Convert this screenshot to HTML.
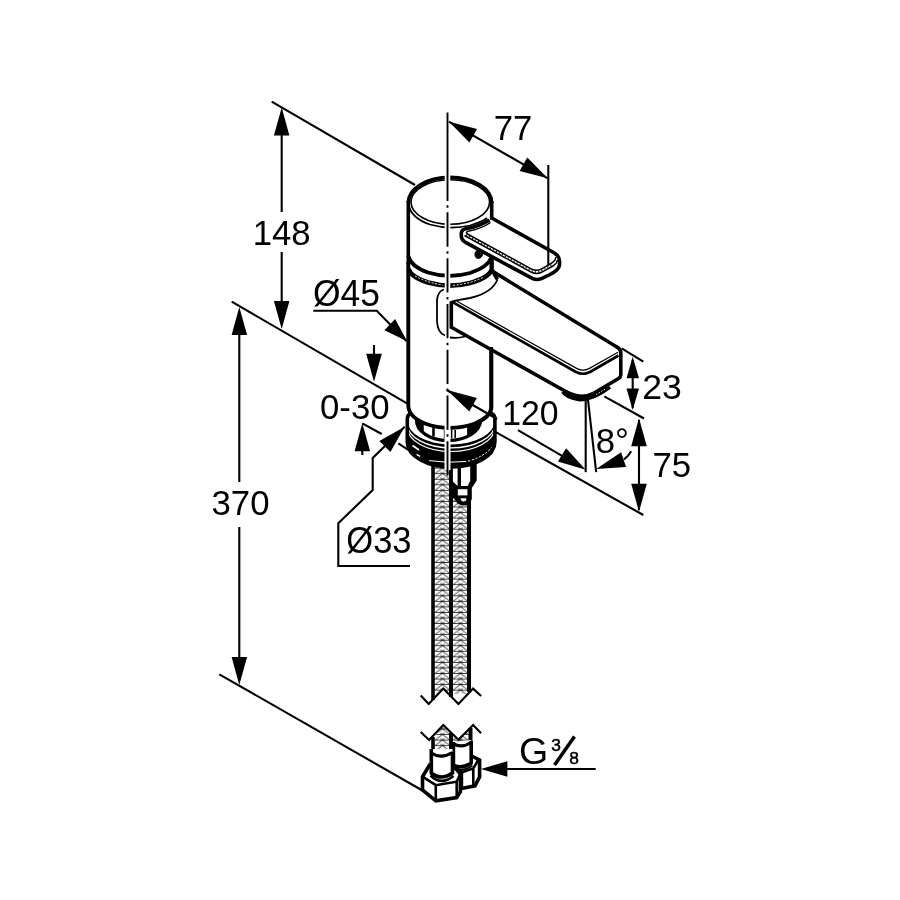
<!DOCTYPE html>
<html><head><meta charset="utf-8"><style>
html,body{margin:0;padding:0;background:#fff;}
svg{display:block;will-change:transform;transform:translateZ(0)}
text{font-family:"Liberation Sans",sans-serif;fill:#000}
</style></head><body>
<svg width="900" height="900" viewBox="0 0 900 900">
<rect width="900" height="900" fill="#fff"/>
<defs>
<pattern id="braid" width="18" height="5.55" patternUnits="userSpaceOnUse" x="433.5" y="1.5">
<rect width="18" height="5.55" fill="#fff"/>
<path d="M0,0.4H18" stroke="#000" stroke-width="0.8" fill="none"/>
<path d="M1.6,5.9 L11.2,-1.3 M16.4,5.9 L6.8,-1.3 M1.6,11.45 L11.2,4.25 M16.4,11.45 L6.8,4.25" stroke="#000" stroke-width="0.8" fill="none"/>
</pattern>
</defs>
<rect x="433" y="462" width="36" height="232" fill="url(#braid)"/>
<polygon points="428,705 429.2,704.2 443.3,689.2 458.3,704.2 472.5,688.3 476,692 476,710 428,710" fill="#fff"/>
<line x1="433" y1="462" x2="433" y2="700" stroke="#000" stroke-width="3.6" />
<line x1="451" y1="462" x2="451" y2="697" stroke="#000" stroke-width="4.0" />
<line x1="469" y1="490" x2="469" y2="692" stroke="#000" stroke-width="4.0" />
<path d="M420.7,695.6 L428.7,704 L443.3,688.6 L458.4,704 L473.1,688.6 L481.1,696" stroke="#000" stroke-width="2.2" fill="none" />
<path d="M451,462 H476.7 V480.5 L471.8,488 V499 Q470.5,505 463.5,505.6 Q457,505 454.5,499 L451,497 Z" stroke="#000" stroke-width="0" fill="#000" />
<path d="M452.9,466 H457.6 V486 L452.9,481.5 Z" stroke="#000" stroke-width="0" fill="#fff" />
<path d="M461,466 H470.2 V481 L467.6,486 H461 Z" stroke="#000" stroke-width="0" fill="#fff" />
<path d="M457.8,489.2 H467.4 V495.4 H457.8 Z" stroke="#000" stroke-width="0" fill="#fff" />
<path d="M460.8,498.3 H466.3 V500 Q463.5,503 460.8,500 Z" stroke="#000" stroke-width="0" fill="#fff" />
<path d="M407.3,416 V442 A43.8,24 0 0 0 494.9,442 V416 Z" stroke="#000" stroke-width="0" fill="#fff" />
<path d="M407.3,420.5 A43.8,24 0 0 0 494.9,420.5 V442 A43.8,25 0 0 1 407.3,442 Z" stroke="#000" stroke-width="0" fill="#000" />
<path d="M407.3,423.9 A43.8,24 0 0 0 494.9,423.9" stroke="#000" stroke-width="1.3" fill="none" style="stroke:#fff"/>
<path d="M407.3,427.5 A43.8,24 0 0 0 494.9,427.5" stroke="#000" stroke-width="1.1" fill="none" style="stroke:#fff"/>
<path d="M429,460.6 Q448,463.5 466,461.5" stroke="#000" stroke-width="1.0" fill="none" style="stroke:#fff"/>
<path d="M468,461.2 Q484,457 493,446" stroke="#000" stroke-width="1.0" fill="none" style="stroke:#fff" stroke-dasharray="2.2 1.6"/>
<path d="M412.5,445.5 L419,450 M416.5,454.5 L420,456.5" stroke="#000" stroke-width="1.6" fill="none" style="stroke:#fff"/>
<path d="M411,413.5 Q407.3,414.5 407.3,419 V442 A43.8,25 0 0 0 494.9,442 V419 Q494.9,415 491.5,413.5" stroke="#000" stroke-width="3.6" fill="none" />
<path d="M416.5,420 A32,20 0 0 0 480.5,421" stroke="#000" stroke-width="3.2" fill="none" />
<path d="M417,421 Q419,428 423.5,431.5 V424 Q420,422 419,419 Z" stroke="#000" stroke-width="0.5" fill="#000" />
<line x1="433.5" y1="427" x2="433.5" y2="436.5" stroke="#000" stroke-width="2.6" />
<line x1="444.8" y1="430" x2="444.8" y2="438.5" stroke="#000" stroke-width="2.0" />
<line x1="451.6" y1="430" x2="451.6" y2="438.5" stroke="#000" stroke-width="1.6" />
<line x1="455.2" y1="430" x2="455.2" y2="438" stroke="#000" stroke-width="1.6" />
<line x1="468.3" y1="427" x2="468.3" y2="436" stroke="#000" stroke-width="2.4" />
<path d="M468.3,426 L481,418 L481,424 Q478,431 468.3,435.5 Z" stroke="#000" stroke-width="0.5" fill="#000" />
<path d="M408.3,270 V406 Q409,417 425,423.5 Q449,432.5 475,423.5 Q490.5,417 491.3,408 V300 Z" stroke="#000" stroke-width="0" fill="#fff" />
<path d="M408.3,262 V406 Q409,417 425,423.5 Q449,432.5 475,423.5 Q490.5,417 491.3,408 V347" stroke="#000" stroke-width="3.9" fill="none" />
<path d="M451.3,301.3 L497,279 L493,271 L617,347.5 Q620.8,349 620.8,353 V376.7 L593.3,393.3 Q585,398 576.7,395.8 Q568,393 563,390 L451.3,327.3 Z" stroke="#000" stroke-width="0" fill="#fff" />
<path d="M563.5,391.3 Q566,396.5 580,399 Q594,398.5 609.5,386.5" stroke="#000" stroke-width="5" fill="none" />
<path d="M596,394.5 L606,388.5" stroke="#000" stroke-width="1" fill="none" style="stroke:#fff" stroke-dasharray="1.5 1.5"/>
<path d="M492,258 V271 L616,346.5 Q620.8,348.5 620.8,353.5 V375 Q620.8,377 618.5,378.5 L594,393 Q585,398 576,395.5 Q570,394 564,390.5 L451.3,327.3 V301.3" stroke="#000" stroke-width="3.6" fill="none" />
<path d="M451.3,301.3 L576,372 Q583,375.5 590,372 L618.5,355.5" stroke="#000" stroke-width="2.7" fill="none" />
<path d="M457,301.2 L577,368.6 Q583,371.6 589,368.6 L618,352.3" stroke="#000" stroke-width="1.2" fill="none" />
<path d="M492.5,270 Q495,276 497.5,279.5" stroke="#000" stroke-width="3.6" fill="none" />
<path d="M497.5,279.5 Q492,293 470,298 Q458,300 452,301.5" stroke="#000" stroke-width="1.8" fill="none" />
<path d="M444,289.5 Q438,291 437,300 V321 Q437.5,333 445,335.5" stroke="#000" stroke-width="1.8" fill="none" />
<path d="M450,337.5 Q458,338.5 465,336.5" stroke="#000" stroke-width="1.8" fill="none" />
<line x1="491.3" y1="347" x2="491.3" y2="409" stroke="#000" stroke-width="3.6" />
<line x1="408.3" y1="201" x2="408.3" y2="264" stroke="#000" stroke-width="3.6" />
<line x1="491.7" y1="201" x2="491.7" y2="220" stroke="#000" stroke-width="3.6" />
<line x1="491.3" y1="256" x2="491.3" y2="272" stroke="#000" stroke-width="3.6" />
<path d="M408.3,203 A41.7,25.6 0 0 1 491.7,203" stroke="#000" stroke-width="3.8000000000000003" fill="none" />
<ellipse cx="450.3" cy="202" rx="39.3" ry="22.3" fill="none" stroke="#000" stroke-width="1.6"/>
<path d="M408.8,205 Q411,218 430,224.5 Q449,230 470,225.5 Q482,222 487,218" stroke="#000" stroke-width="1.7" fill="none" />
<path d="M408.3,256 Q411,266.5 428,272.5 Q449,279 470,273 Q488,267 491,258" stroke="#000" stroke-width="3.8" fill="none" />
<path d="M408.5,269 Q411,277 428,282.5 Q449,288.5 470,283 Q489,277.5 491.5,270" stroke="#000" stroke-width="4.6" fill="none" />
<path d="M415,276 Q428,283 443,285 M453,285.3 Q470,284 484,277" stroke="#000" stroke-width="1" fill="none" style="stroke:#fff" stroke-dasharray="2 1.6"/>
<ellipse cx="478.8" cy="254" rx="4.2" ry="5" fill="#000" transform="rotate(25 478.8 254)"/>
<path d="M467.3,228.7 L490,220 L492.7,218.7 L554,252.7 Q559.5,256 559.5,261 V265 Q558,270 548,275 L542,278.4 Q537,280.5 532.7,278.7 L466,242.7 Q461.3,240 461.3,236 V233 Q461.5,229.5 467.3,228.7 Z" stroke="#000" stroke-width="0" fill="#fff" />
<path d="M491.7,218 L554,252.7 Q559.5,256 559.5,261 V265 Q559,270 550,274.5 L542,278.4 Q537,280.5 532.7,278.7 L466,242.7 Q461.3,240 461.3,236 V233 Q461.5,229 468,228.3 Q480,226 489.5,220" stroke="#000" stroke-width="3.6" fill="none" />
<path d="M466.5,233.5 L532,269.3 Q536.5,271.3 541,269.3 L551,263.5 Q556.5,260 555.5,257" stroke="#000" stroke-width="1.5" fill="none" />
<path d="M464.5,235.5 L531.5,272.3 Q536.5,274.6 541.5,272.3 L553,266 Q557,263.5 557.5,260" stroke="#000" stroke-width="1.5" fill="none" />
<path d="M466.5,233.5 Q466,231.5 469,231 Q482,228.5 490.5,222.5" stroke="#000" stroke-width="1.5" fill="none" />
<path d="M466,234.8 L531.8,270.9 Q536.5,273 541.2,270.9 L552,264.8" stroke="#000" stroke-width="1.2" fill="none" stroke-dasharray="1.2 2.2"/>
<polygon points="433,739 443.3,725.5 451,733 458.3,739 472.5,725.5 470,739 470,750 433,752" fill="url(#braid)"/>
<line x1="433" y1="737" x2="433" y2="754" stroke="#000" stroke-width="3.6" />
<line x1="451" y1="733" x2="451" y2="760" stroke="#000" stroke-width="4.0" />
<line x1="470.5" y1="728" x2="470.5" y2="745" stroke="#000" stroke-width="4.0" />
<path d="M420.7,732 L429.1,740 L443.3,725 L458.4,739.8 L473.1,725 L481.1,733.3" stroke="#000" stroke-width="2.2" fill="none" />
<path d="M455,766 L472.5,756.5 L479.6,760 V776.7 L475,785.8 L461.7,788.5 L455,786 Z" stroke="#000" stroke-width="3.6" fill="#fff" />
<path d="M455.5,768.5 L462.5,772 L473.3,768.5 L478,760.5 M473.3,768.5 V785.5 M461.9,772 V787.5" stroke="#000" stroke-width="2.6" fill="none" />
<path d="M453.4,742 V765 Q462,769.5 471.2,763 V740 Z" stroke="#000" stroke-width="0" fill="#fff" />
<path d="M453.4,744 Q462,748.5 471.2,742.5" stroke="#000" stroke-width="3.2" fill="none" />
<path d="M453.4,742 V765 Q462,769.5 471.2,763 V741" stroke="#000" stroke-width="3.6" fill="none" />
<path d="M456,768.5 Q463,772 472.5,765.5" stroke="#000" stroke-width="1.6" fill="none" />
<path d="M429.6,765 L422.5,776.7 V790 L435.8,800.8 L456.7,797.5 L460.4,791.7 V774 L452,764 Z" stroke="#000" stroke-width="3.6" fill="#fff" />
<path d="M422.5,776.7 L435.8,785.2 L456.7,781.7 L460,774.5 M435.8,785.2 V800.5 M456.7,781.7 V797" stroke="#000" stroke-width="2.6" fill="none" />
<path d="M431.3,749 V773 Q441,781 452.5,773 V749 Z" stroke="#000" stroke-width="0" fill="#fff" />
<path d="M431.3,753 Q441,759.5 452.5,752.5" stroke="#000" stroke-width="3.2" fill="none" />
<path d="M431.3,749 V773 Q441,781 452.5,773 V752" stroke="#000" stroke-width="3.6" fill="none" />
<path d="M430.5,775.5 Q441,786 453.5,776" stroke="#000" stroke-width="2.6" fill="none" />
<line x1="447.5" y1="414" x2="447.5" y2="470" stroke="#000" stroke-width="6" style="stroke:#fff"/>
<line x1="447.5" y1="172" x2="447.5" y2="182.5" stroke="#000" stroke-width="5.6" style="stroke:#fff"/>
<line x1="447.5" y1="220.5" x2="447.5" y2="229.5" stroke="#000" stroke-width="5.6" style="stroke:#fff"/>
<line x1="447.5" y1="271.5" x2="447.5" y2="290" stroke="#000" stroke-width="5.6" style="stroke:#fff"/>
<line x1="447.5" y1="112.5" x2="447.5" y2="200.9" stroke="#000" stroke-width="1.9" />
<line x1="447.5" y1="205.35" x2="447.5" y2="476" stroke="#000" stroke-width="1.9" stroke-dasharray="2.5 4.5 34.3 4.5"/>
<line x1="271.7" y1="101.7" x2="415" y2="185" stroke="#000" stroke-width="2.1" />
<line x1="231.7" y1="301.7" x2="407" y2="403.3" stroke="#000" stroke-width="2.1" />
<line x1="219.3" y1="674.3" x2="423.3" y2="791" stroke="#000" stroke-width="2.1" />
<line x1="281.7" y1="130" x2="281.7" y2="212" stroke="#000" stroke-width="2.1" />
<line x1="281.7" y1="252" x2="281.7" y2="305" stroke="#000" stroke-width="2.1" />
<polygon points="281.7,107.5 289.4,135.5 273.9,135.5" fill="#000"/>
<polygon points="281.7,329.0 273.9,301.0 289.4,301.0" fill="#000"/>
<text transform="translate(281.7,245) scale(0.965,1)" font-size="36" text-anchor="middle" >148</text>
<line x1="239.3" y1="330" x2="239.3" y2="482" stroke="#000" stroke-width="2.1" />
<line x1="239.3" y1="527" x2="239.3" y2="660" stroke="#000" stroke-width="2.1" />
<polygon points="239.3,307.0 247.1,335.0 231.6,335.0" fill="#000"/>
<polygon points="239.3,685.0 231.6,657.0 247.1,657.0" fill="#000"/>
<text transform="translate(240.5,515) scale(0.965,1)" font-size="36" text-anchor="middle" >370</text>
<line x1="449" y1="121.7" x2="547.7" y2="178.3" stroke="#000" stroke-width="2.1" />
<polygon points="449.0,121.7 477.1,128.9 469.4,142.4" fill="#000"/>
<polygon points="547.7,178.3 519.6,171.1 527.3,157.6" fill="#000"/>
<line x1="548.3" y1="165" x2="548.3" y2="265" stroke="#000" stroke-width="2.1" />
<text transform="translate(513,140) scale(0.965,1)" font-size="36" text-anchor="middle" >77</text>
<text transform="translate(313,306) scale(0.985,1)" font-size="36" text-anchor="start" >Ø45</text>
<path d="M313.3,310.8 H376.7 L406.7,341.2" stroke="#000" stroke-width="2.1" fill="none" />
<polygon points="407.2,341.2 384.4,330.3 395.1,319.1" fill="#000"/>
<text transform="translate(320,419.3) scale(0.965,1)" font-size="36" text-anchor="start" >0-30</text>
<line x1="374" y1="345" x2="374" y2="360" stroke="#000" stroke-width="2.1" />
<polygon points="374.0,381.7 366.2,353.7 381.8,353.7" fill="#000"/>
<line x1="362.3" y1="450" x2="362.3" y2="455" stroke="#000" stroke-width="2.1" />
<polygon points="362.3,423.3 370.1,451.3 354.6,451.3" fill="#000"/>
<line x1="362.3" y1="423.3" x2="381.7" y2="434" stroke="#000" stroke-width="2.1" />
<path d="M404.7,426.7 L372.7,458 V490 L338.3,523.3 V566 H410" stroke="#000" stroke-width="2.1" fill="none" />
<polygon points="404.7,426.7 390.4,452.0 379.4,441.0" fill="#000"/>
<line x1="398.3" y1="443.3" x2="408.3" y2="450" stroke="#000" stroke-width="2.1" />
<text transform="translate(346.3,553.3) scale(0.96,1)" font-size="36" text-anchor="start" >Ø33</text>
<polygon points="447.0,390.0 476.9,398.0 469.3,411.5" fill="#000"/>
<line x1="446.7" y1="390" x2="497" y2="419" stroke="#000" stroke-width="2.1" />
<line x1="518" y1="430.2" x2="580" y2="466.3" stroke="#000" stroke-width="2.1" />
<polygon points="585.7,469.8 557.9,461.5 566.1,448.3" fill="#000"/>
<text transform="translate(502.3,425) scale(0.938,1)" font-size="36" text-anchor="start" >120</text>
<line x1="585.7" y1="399.8" x2="585.7" y2="472.2" stroke="#000" stroke-width="2.1" />
<line x1="588" y1="399.8" x2="596.2" y2="472.2" stroke="#000" stroke-width="2.1" />
<polygon points="596.2,469.1 621.1,452.3 626.1,467.0" fill="#000"/>
<path d="M624,459.5 Q628.5,456 631.2,451.2" stroke="#000" stroke-width="2.1" fill="none" />
<text transform="translate(595.8,453.2) scale(0.965,1)" font-size="36" text-anchor="start" >8°</text>
<line x1="632.7" y1="360" x2="632.7" y2="408" stroke="#000" stroke-width="2.1" />
<polygon points="632.7,356.7 639.0,378.2 626.5,378.2" fill="#000"/>
<polygon points="632.7,410.0 626.5,388.5 639.0,388.5" fill="#000"/>
<text transform="translate(642.3,399.3) scale(0.99,1)" font-size="36" text-anchor="start" >23</text>
<line x1="621.7" y1="348.3" x2="643.3" y2="361.7" stroke="#000" stroke-width="2.1" />
<line x1="604.3" y1="396.3" x2="644" y2="418.5" stroke="#000" stroke-width="2.1" />
<line x1="639" y1="420" x2="639" y2="510" stroke="#000" stroke-width="2.1" />
<polygon points="639.0,418.3 646.8,446.3 631.2,446.3" fill="#000"/>
<polygon points="639.0,511.7 631.2,483.7 646.8,483.7" fill="#000"/>
<text transform="translate(652.5,476.7) scale(0.965,1)" font-size="36" text-anchor="start" >75</text>
<line x1="495" y1="431.7" x2="643.3" y2="515" stroke="#000" stroke-width="2.1" />
<line x1="500" y1="769" x2="595.7" y2="769" stroke="#000" stroke-width="2" />
<polygon points="480.9,769.0 507.4,761.2 507.4,776.8" fill="#000"/>
<text transform="translate(519,764.3) scale(1.0,1)" font-size="37.5" text-anchor="start" >G</text>
<text transform="translate(551.3,750.5) scale(1.05,1)" font-size="16.5" text-anchor="start" stroke="#000" stroke-width="0.5">3</text>
<text transform="translate(569.3,764) scale(1.05,1)" font-size="16.5" text-anchor="start" stroke="#000" stroke-width="0.5">8</text>
<line x1="554.5" y1="765" x2="574.5" y2="736.5" stroke="#000" stroke-width="3.5" />
</svg>
</body></html>
